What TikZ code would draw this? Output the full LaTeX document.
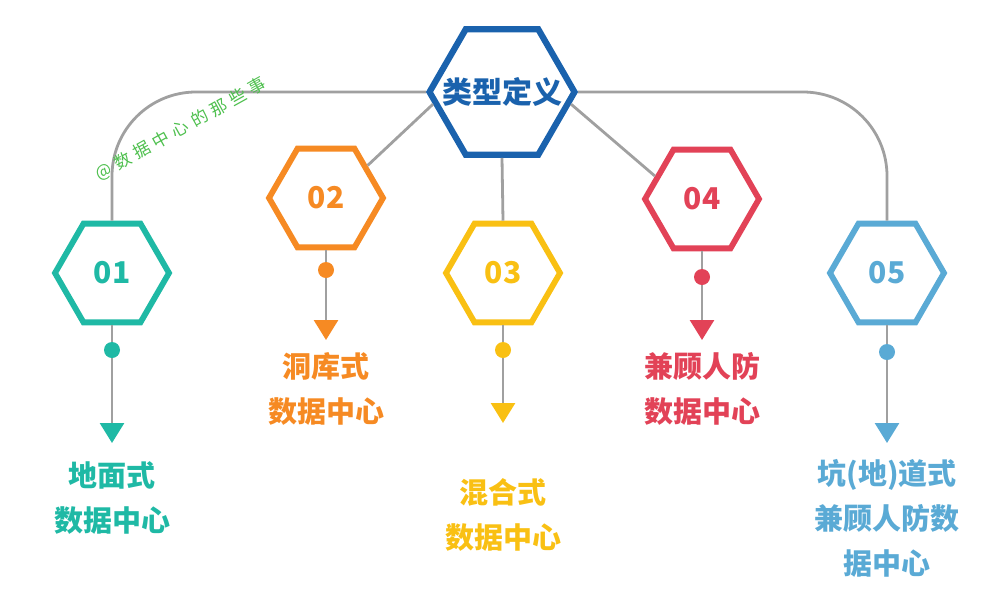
\documentclass[tikz,border=0pt]{standalone}
\usepackage{fontspec}
\newfontfamily\cjk{Noto Sans CJK SC}
\usetikzlibrary{shapes.geometric,arrows.meta}
\definecolor{cblue}{HTML}{1A62AD}
\definecolor{cteal}{HTML}{1FB9A5}
\definecolor{corange}{HTML}{F68A23}
\definecolor{cyellow}{HTML}{F9C013}
\definecolor{cred}{HTML}{E24257}
\definecolor{clblue}{HTML}{5AAAD5}
\definecolor{linegray}{HTML}{A0A0A0}
\definecolor{wmgreen}{HTML}{4DBF4D}
\newcommand{\wsp}{\hspace{5pt}}
\begin{document}
\begin{tikzpicture}[x=1pt,y=-1pt,
  hexa/.style={regular polygon, regular polygon sides=6, minimum size=114pt,
    inner sep=0pt, line width=5.8pt, draw=#1, fill=white},
  bighex/.style={regular polygon, regular polygon sides=6, minimum size=145pt,
    inner sep=0pt, line width=6.2pt, draw=#1, fill=white},
  conn/.style={draw=linegray, line width=2.8pt},
  lbl/.style={text=#1, font=\cjk\bfseries\fontsize{29}{45}\selectfont, align=center},
  num/.style={text=#1, font=\cjk\bfseries\fontsize{30}{36}\selectfont},
  tipto/.style={-{Triangle[length=20pt,width=24pt,color=#1,fill=#1]}},
  dotc/.style={fill=#1},
]
\useasboundingbox (0,0) rectangle (1000,611);

% hexagons
\node[bighex=cblue] (c) at (502,92) {};
\node[hexa=cteal] (h1) at (112,273) {};
\node[hexa=corange] (h2) at (326,198) {};
\node[hexa=cyellow] (h3) at (503,273) {};
\node[hexa=cred] (h4) at (702,199) {};
\node[hexa=clblue] (h5) at (887,273) {};

% connectors from the centre
\draw[conn, rounded corners=84pt] (c.west) -| (h1.north);
\draw[conn, rounded corners=84pt] (c.east) -| (h5.north);
\draw[conn] (c.190) -- (h2.38);
\draw[conn] (c.350) -- (h4.154);
\draw[conn] (c.south) -- (h3.north);

% stems
\coordinate (a1) at (112,443);
\coordinate (a2) at (326,340);
\coordinate (a3) at (503,423);
\coordinate (a4) at (702,340);
\coordinate (a5) at (887,443);
\draw[conn, tipto=cteal] (h1.south) -- (a1);
\draw[conn, tipto=corange] (h2.south) -- (a2);
\draw[conn, tipto=cyellow] (h3.south) -- (a3);
\draw[conn, tipto=cred] (h4.south) -- (a4);
\draw[conn, tipto=clblue] (h5.south) -- (a5);

\coordinate (d1) at (112,350);
\coordinate (d2) at (326,270);
\coordinate (d3) at (503,350);
\coordinate (d4) at (702,277);
\coordinate (d5) at (887,352);
\fill[dotc=cteal] (d1) circle (8pt);
\fill[dotc=corange] (d2) circle (8pt);
\fill[dotc=cyellow] (d3) circle (8pt);
\fill[dotc=cred] (d4) circle (8pt);
\fill[dotc=clblue] (d5) circle (8pt);

% texts in hexagons
\node[num=cblue] (tc) at (c) {类型定义};
\node[num=cteal] (n1) at (h1) {01};
\node[num=corange] (n2) at (h2) {02};
\node[num=cyellow] (n3) at (h3) {03};
\node[num=cred] (n4) at (h4) {04};
\node[num=clblue] (n5) at (h5) {05};

% labels
\node[lbl=cteal] (t1) at (112,498) {地面式\\数据中心};
\node[lbl=corange] (t2) at (326,389) {洞库式\\数据中心};
\node[lbl=cyellow] (t3) at (503,515) {混合式\\数据中心};
\node[lbl=cred] (t4) at (702,389) {兼顾人防\\数据中心};
\node[lbl=clblue] (t5) at (887,518) {坑(地)道式\\兼顾人防数\\据中心};

% watermark
\node[rotate=29, text=wmgreen, font=\cjk\fontsize{17}{17}\selectfont] (wm) at (181,129)
  {@\wsp 数\wsp 据\wsp 中\wsp 心\wsp 的\wsp 那\wsp 些\wsp 事};
\end{tikzpicture}
\end{document}
